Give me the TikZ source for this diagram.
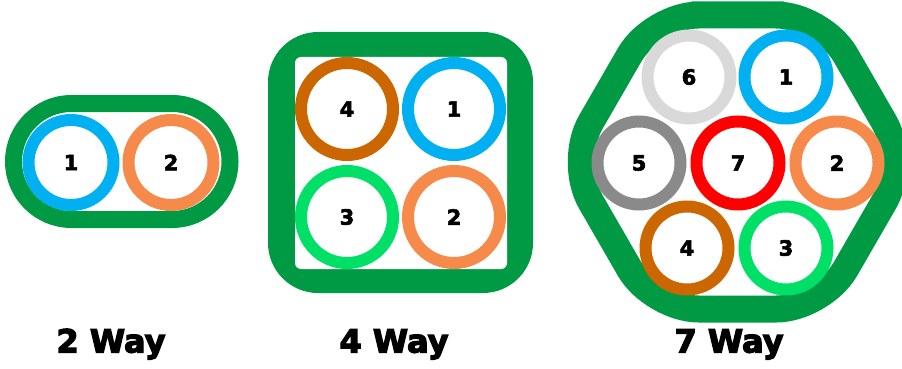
\documentclass[tikz,border=0pt]{standalone}
\usepackage{fontspec}
\setmainfont{DejaVu Sans}
\newfontfamily\heavyfont{DejaVu Sans Bold}
\newcommand{\thicktext}[2]{\special{pdf:literal direct 2 Tr #1 w}#2\special{pdf:literal direct 0 Tr}}
\definecolor{jacket}{HTML}{009A44}
\definecolor{cblue}{HTML}{00B0F0}
\definecolor{corange}{HTML}{F58A4A}
\definecolor{cbrown}{HTML}{CC6600}
\definecolor{cgreen}{HTML}{00E066}
\definecolor{cltgray}{HTML}{D9D9D9}
\definecolor{cgray}{HTML}{8A8A8A}
\definecolor{cred}{HTML}{FF0000}
\tikzset{
  ringbase/.style={circle, draw=#1, fill=white, line width=12pt, inner sep=0pt, font=\heavyfont\fontsize{21}{24}\selectfont},
  ringtwo/.style={ringbase=#1, minimum size=85pt},
  ringfour/.style={ringbase=#1, minimum size=92pt},
  ringseven/.style={ringbase=#1, minimum size=83pt},
  waylabel/.style={anchor=base, inner sep=0pt, font=\heavyfont\fontsize{32}{36}\selectfont},
}
\begin{document}
\begin{tikzpicture}[x=1pt,y=-1pt]
\useasboundingbox (0,0) rectangle (902,369);
\fill[white] (0,0) rectangle (902,369);
% ---------- 2 way ----------
\draw[jacket, line width=17pt, rounded corners=57.9pt] (13.5,103.5) rectangle (230,219.5);
\node[ringtwo=cblue] (a1) at (71,162.5) {\thicktext{0.6}{1}};
\node[ringtwo=corange] (a2) at (171,162.5) {\thicktext{0.6}{2}};
% ---------- 4 way ----------
\fill[jacket, rounded corners=50pt] (268,32) rectangle (533,293);
\fill[white, rounded corners=6pt] (295,57) rectangle (507,269);
\node[ringfour=cbrown] (b4) at (347,109) {\thicktext{0.6}{4}};
\node[ringfour=cblue] (b1) at (454,109) {\thicktext{0.6}{1}};
\node[ringfour=cgreen] (b3) at (347,217) {\thicktext{0.6}{3}};
\node[ringfour=corange] (b2) at (454,217) {\thicktext{0.6}{2}};
% ---------- 7 way ----------
\draw[jacket, line width=27pt, rounded corners=46pt]
  (737.5,15) -- (822.35,15) -- (907.2,162) -- (822.35,309) -- (652.65,309)
  -- (567.8,162) -- (652.65,15) -- cycle;
\node[ringseven=cltgray] (c6) at (689,77) {\thicktext{0.6}{6}};
\node[ringseven=cblue] (c1) at (786,77) {\thicktext{0.6}{1}};
\node[ringseven=cgray] (c5) at (639,163) {\thicktext{0.6}{5}};
\node[ringseven=cred] (c7) at (738,163) {\thicktext{0.6}{7}};
\node[ringseven=corange] (c2) at (837,163) {\thicktext{0.6}{2}};
\node[ringseven=cbrown] (c4) at (687,248) {\thicktext{0.6}{4}};
\node[ringseven=cgreen] (c3) at (786,248) {\thicktext{0.6}{3}};
% ---------- labels ----------
\node[waylabel] (l2) at (111,352.5) {\thicktext{1.2}{2 Way}};
\node[waylabel] (l4) at (394,352.5) {\thicktext{1.2}{4 Way}};
\node[waylabel] (l7) at (729,352.5) {\thicktext{1.2}{7 Way}};
\end{tikzpicture}
\end{document}
